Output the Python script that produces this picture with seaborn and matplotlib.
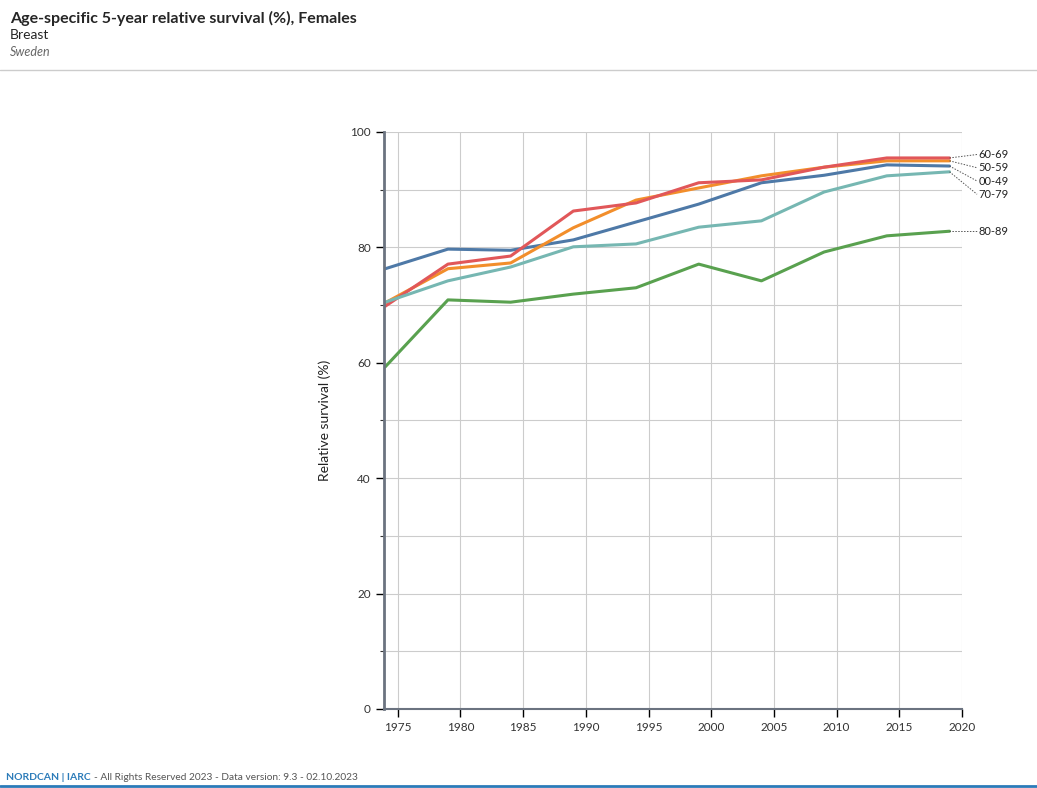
import pandas as pd
import matplotlib.pyplot as plt
import seaborn as sns

# Data (period midpoints)
years = [1974, 1979, 1984, 1989, 1994, 1999, 2004, 2009, 2014, 2019]
age_00_49 = [76.3, 79.7, 79.5, 81.3, 84.4, 87.5, 91.2, 92.5, 94.3, 94.1]
age_50_59 = [70.4, 76.3, 77.3, 83.4, 88.2, 90.3, 92.4, 93.9, 95.0, 95.0]
age_60_69 = [69.8, 77.1, 78.5, 86.3, 87.7, 91.2, 91.7, 93.9, 95.5, 95.5]
age_70_79 = [70.5, 74.2, 76.6, 80.1, 80.6, 83.5, 84.6, 89.6, 92.4, 93.1]
age_80_89 = [59.3, 70.9, 70.5, 71.9, 73.0, 77.1, 74.2, 79.2, 82.0, 82.8]

groups = ["00-49", "50-59", "60-69", "70-79", "80-89"]
series = [age_00_49, age_50_59, age_60_69, age_70_79, age_80_89]
colors = ["#4e79a7", "#f28e2b", "#e15759", "#76b7b2", "#59a14f"]

rows = []
for g, vals in zip(groups, series):
    for y, v in zip(years, vals):
        rows.append({"year": y, "survival": v, "age": g})
df = pd.DataFrame(rows)

sns.set_style("white")
plt.rcParams["font.family"] = ["Lato", "DejaVu Sans"]

fig = plt.figure(figsize=(10.37, 7.88), dpi=100)
ax = fig.add_axes([0.3703, 0.1003, 0.5574, 0.7322])

sns.lineplot(data=df, x="year", y="survival", hue="age", palette=dict(zip(groups, colors)),
             linewidth=2.2, legend=False, ax=ax)

ax.set_xlim(1973.9, 2020)
ax.set_ylim(0, 100)
ax.set_xticks(range(1975, 2021, 5))
ax.set_yticks(range(0, 101, 20))
ax.set_yticks(range(10, 100, 20), minor=True)
ax.grid(True, which="both", color="#cccccc", linewidth=0.8)
ax.set_axisbelow(True)
for s in ["top", "right"]:
    ax.spines[s].set_visible(False)
ax.spines["left"].set_color("#6b7380")
ax.spines["left"].set_linewidth(2)
ax.spines["bottom"].set_color("#6b7380")
ax.spines["bottom"].set_linewidth(1.5)
ax.tick_params(axis="both", which="major", length=6, width=1, color="black",
               labelsize=8.5, labelcolor="#333333", direction="out", left=True, bottom=True)
ax.tick_params(axis="y", which="minor", length=3, width=0.8, color="#333333", left=True)
ax.set_xlabel("")
ax.set_ylabel("Relative survival (%)", fontsize=10, color="#222222", labelpad=14)

# End labels with dotted connectors, spread so they do not overlap
ends = sorted([(vals[-1], g) for g, vals in zip(groups, series)], reverse=True)
gap = 2.3
prev = None
for v, g in ends:
    pos = v if prev is None else min(v, prev - gap)
    prev = pos
    lab = pos + 0.6 if v > 90 else pos
    ax.plot([years[-1], 2021.2], [v, lab], linestyle=(0, (1.5, 1.5)), color="#555555",
             linewidth=0.7, clip_on=False)
    ax.text(2021.3, lab, g, fontsize=8, va="center", ha="left", color="#222222")

# Header
fig.text(10 / 1037, 1 - 18 / 788, "Age-specific 5-year relative survival (%), Females",
         fontsize=11.5, fontweight="bold", va="center", ha="left")
fig.text(10 / 1037, 1 - 35 / 788, "Breast", fontsize=10, va="center", ha="left")
fig.text(10 / 1037, 1 - 52 / 788, "Sweden", fontsize=9, style="italic", color="#666666",
         va="center", ha="left")
fig.add_artist(plt.Line2D([0, 1], [1 - 70 / 788, 1 - 70 / 788], color="#cccccc", linewidth=1))

# Footer
t1 = fig.text(6 / 1037, 1 - 778 / 788, "NORDCAN | IARC", fontsize=7.5, fontweight="bold",
              color="#2b7bb9", va="center", ha="left")
fig.canvas.draw()
bb = t1.get_window_extent()
fig.text(bb.x1 / fig.bbox.width + 3 / 1037, 1 - 778 / 788,
         "- All Rights Reserved 2023 - Data version: 9.3 - 02.10.2023",
         fontsize=7.3, color="#555555", va="center", ha="left")
fig.add_artist(plt.Line2D([0, 1], [1 - 786 / 788, 1 - 786 / 788], color="#2b7bb9", linewidth=2))

fig.savefig("out.png", dpi=100)
plt.close(fig)
